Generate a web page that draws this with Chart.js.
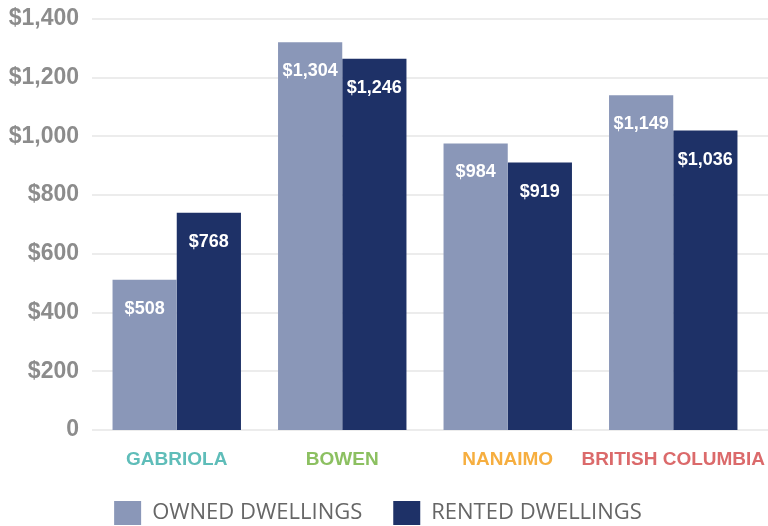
<!DOCTYPE html>
<html>
<head>
<meta charset="utf-8">
<script src="https://cdn.jsdelivr.net/npm/chart.js@4"></script>
<style>
  html, body { margin: 0; padding: 0; background: #fff; }
  #wrap { width: 768px; height: 526px; }
</style>
</head>
<body>
<div id="wrap"><canvas id="chart"></canvas></div>
<script>
// categories and values
const places = ['GABRIOLA', 'BOWEN', 'NANAIMO', 'BRITISH COLUMBIA']
const placeColors = ['#5fbdb9', '#8cc061', '#f6ae3f', '#db6a6b']
// bar heights as drawn
const owned = [512, 1321, 976, 1140]
const rented = [740, 1265, 911, 1020]
// printed value labels
const ownedText = ['$508', '$1,304', '$984', '$1,149']
const rentedText = ['$768', '$1,246', '$919', '$1,036']
const yTicks = [0, 200, 400, 600, 800, 1000, 1200, 1400]

const bold = '"Liberation Sans", Arial, sans-serif'

// white value labels inside the top of each bar
const valueLabels = {
  id: 'valueLabels',
  afterDatasetsDraw(chart) {
    const ctx = chart.ctx
    ctx.save()
    ctx.fillStyle = '#ffffff'
    ctx.font = 'bold 18px ' + bold
    ctx.textAlign = 'center'
    ctx.textBaseline = 'middle'
    chart.data.datasets.forEach((ds, i) => {
      chart.getDatasetMeta(i).data.forEach((bar, j) => {
        ctx.fillText(ds.valueText[j], bar.x, bar.y + 29)
      })
    })
    ctx.restore()
  }
}

// gridlines run to the right edge of the canvas
const fullGrid = {
  id: 'fullGrid',
  beforeDatasetsDraw(chart) {
    const ctx = chart.ctx
    const y = chart.scales.y
    ctx.save()
    ctx.strokeStyle = '#ececec'
    ctx.lineWidth = 2
    y.ticks.forEach(t => {
      const py = Math.round(y.getPixelForValue(t.value))
      ctx.beginPath()
      ctx.moveTo(chart.chartArea.left - 2, py)
      ctx.lineTo(chart.width, py)
      ctx.stroke()
    })
    ctx.restore()
  }
}

const data = {
  labels: places,
  datasets: [{
    label: 'OWNED DWELLINGS',
    data: owned,
    valueText: ownedText,
    backgroundColor: '#8a97b8'
  }, {
    label: 'RENTED DWELLINGS',
    data: rented,
    valueText: rentedText,
    backgroundColor: '#1e3167'
  }]
}

const config = {
  type: 'bar',
  data: data,
  options: {
    responsive: true,
    maintainAspectRatio: false,
    animation: false,
    layout: { padding: { top: 0, right: 12, bottom: -9, left: 0 } },
    datasets: {
      bar: { categoryPercentage: 0.776, barPercentage: 1.0 }
    },
    scales: {
      x: {
        grid: { display: false, drawTicks: false },
        border: { display: false },
        afterFit: s => { s.height = 40; s.paddingLeft = 0; s.paddingRight = 0 },
        ticks: {
          padding: 18,
          maxRotation: 0,
          minRotation: 0,
          autoSkip: false,
          color: c => placeColors[c.index],
          font: { family: bold, size: 19, weight: 'bold' }
        }
      },
      y: {
        min: 0,
        max: 1400,
        afterFit: s => { s.width = 94; s.paddingTop = 19; s.paddingBottom = 0 },
        afterBuildTicks: s => { s.ticks = yTicks.map(v => ({ value: v })) },
        grid: { display: false, drawTicks: false },
        border: { display: false },
        ticks: {
          padding: 15,
          color: '#8c8c8c',
          font: { family: bold, size: 23, weight: 'bold' },
          callback: v => v === 0 ? '0' : '$' + v.toLocaleString('en-US')
        }
      }
    },
    plugins: {
      tooltip: { enabled: false },
      legend: {
        position: 'bottom',
        labels: {
          boxWidth: 27,
          boxHeight: 24,
          padding: 31,
          color: '#666666',
          font: { family: '"Open Sans", sans-serif', size: 22 }
        }
      }
    }
  },
  plugins: [fullGrid, valueLabels]
}

new Chart(document.getElementById('chart'), config)
</script>
</body>
</html>
